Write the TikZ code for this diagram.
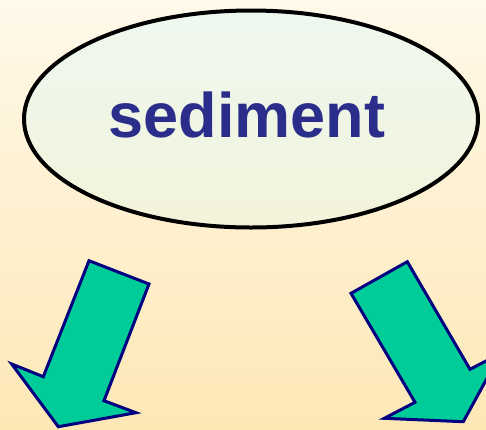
\documentclass[tikz,border=0pt]{standalone}
\usepackage{fontspec}
\setmainfont{Liberation Sans}
\usetikzlibrary{shapes.geometric}
\definecolor{bgtop}{HTML}{FFF9EA}
\definecolor{bgbot}{HTML}{FDE7B5}
\definecolor{ovaltop}{HTML}{EEF8F0}
\definecolor{ovalbot}{HTML}{F3F3DA}
\definecolor{inkblue}{HTML}{2A2E8A}
\definecolor{arrowfill}{HTML}{00CC99}
\definecolor{arrowedge}{HTML}{000080}
\begin{document}
\begin{tikzpicture}[x=1pt,y=-1pt,
  blockarrow/.style={fill=arrowfill,draw=arrowedge,line width=3pt,line join=miter},
  oval/.style={ellipse,draw=black,line width=4pt,top color=ovaltop,bottom color=ovalbot,
    minimum width=454pt,minimum height=217pt,inner sep=0pt},
  title/.style={font=\bfseries\fontsize{63}{63}\selectfont,text=inkblue,anchor=base,inner sep=0pt}]
  % background
  \shade[top color=bgtop,bottom color=bgbot] (0,0) rectangle (486,429);
  \useasboundingbox (0,0) rectangle (486,429);
  % central oval with its label
  \node[oval] (sed) at (251,119) {};
  \node[title] (lbl) at (247,137) {sediment};
  % two block arrows
  \begin{scope}
    \clip (0,0) rectangle (486,429);
    \draw[blockarrow] (89,260.7) -- (149,284) -- (104,400.7) -- (136,412.7)
      -- (58.3,426.7) -- (11.7,364) -- (43.3,376.7) -- cycle;
    \draw[blockarrow] (351,293.3) -- (407.3,261.7) -- (470,369.3) -- (500.7,353.3)
      -- (463.3,421.7) -- (384.3,418.3) -- (415,402.3) -- cycle;
  \end{scope}
\end{tikzpicture}
\end{document}
